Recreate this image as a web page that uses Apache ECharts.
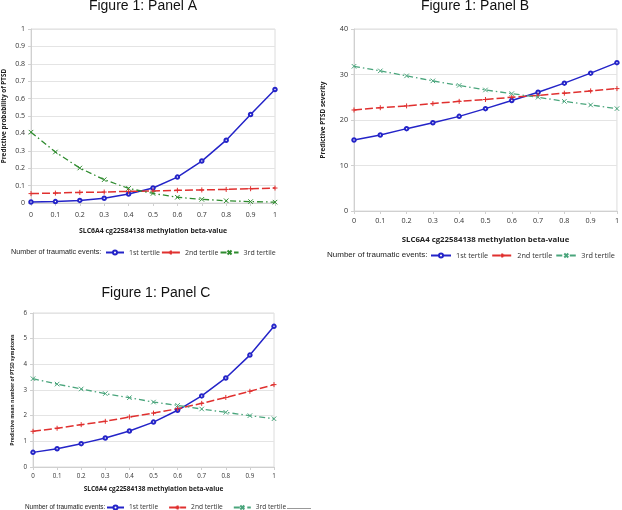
<!DOCTYPE html>
<html>
<head>
<meta charset="utf-8">
<script src="https://cdn.jsdelivr.net/npm/echarts@6/dist/echarts.min.js"></script>
<style>
html,body{margin:0;padding:0;background:#fff;}
#chart{width:622px;height:510px;}
</style>
</head>
<body>
<div id="chart"></div>
<script>
// ---- data ----
var betaValues = [0, 0.1, 0.2, 0.3, 0.4, 0.5, 0.6, 0.7, 0.8, 0.9, 1];
var seriesNames = ['1st tertile', '2nd tertile', '3rd tertile'];
var panelTitles = ['Figure 1: Panel A', 'Figure 1: Panel B', 'Figure 1: Panel C'];
var yTitles = ['Predictive probability of PTSD', 'Predictive PTSD severity', 'Predictive mean number of PTSD symptoms'];
var xTitle = 'SLC6A4 cg22584138 methylation beta-value';
var legendLabel = 'Number of traumatic events:';

// Panel A: predictive probability of PTSD
var panelA_t1 = [0.006, 0.008, 0.015, 0.027, 0.052, 0.086, 0.149, 0.241, 0.361, 0.509, 0.652];
var panelA_t2 = [0.054, 0.057, 0.061, 0.063, 0.067, 0.069, 0.073, 0.075, 0.078, 0.082, 0.086];
var panelA_t3 = [0.407, 0.293, 0.201, 0.134, 0.084, 0.055, 0.033, 0.021, 0.013, 0.008, 0.005];
// Panel B: predictive PTSD severity
var panelB_t1 = [15.6, 16.7, 18.1, 19.4, 20.8, 22.5, 24.3, 26.1, 28.1, 30.3, 32.6];
var panelB_t2 = [22.2, 22.7, 23.1, 23.6, 24.1, 24.5, 25.0, 25.4, 25.9, 26.4, 26.9];
var panelB_t3 = [31.8, 30.8, 29.7, 28.6, 27.6, 26.6, 25.8, 25.0, 24.1, 23.3, 22.5];
// Panel C: predictive mean number of PTSD symptoms
var panelC_t1 = [0.57, 0.71, 0.91, 1.13, 1.40, 1.75, 2.21, 2.77, 3.47, 4.36, 5.48];
var panelC_t2 = [1.39, 1.51, 1.65, 1.78, 1.95, 2.10, 2.27, 2.48, 2.71, 2.95, 3.21];
var panelC_t3 = [3.44, 3.23, 3.04, 2.86, 2.70, 2.53, 2.40, 2.26, 2.13, 2.00, 1.88];

var yMax = [1, 40, 6];
var yInterval = [0.1, 10, 1];

// ---- layout ----
var grids = [
  {left: 31, top: 29, width: 244, height: 174},
  {left: 354, top: 29, width: 264, height: 182},
  {left: 33, top: 313, width: 241, height: 154}
];
var xNameGap = [25, 25, 19];
var xNameSize = [6.9, 7.8, 6.5];
var tickSize = [7, 7.2, 6.2];
var xLabelMargin = [8, 6, 6];
var yNameGap = [24, 28, 18];
var yNameSize = [6.4, 6.4, 5.1];
var titlePos = [[143, 6], [475, 6], [156, 293]];
var legendTextPos = [[11, 252], [327, 255], [25, 507]];
var legendTextSize = [7.2, 8, 6.4];
var legendLeft = [105, 430, 106];
var legendY = [252, 255, 507];
var legendFont = [7, 7.3, 6.6];
var legendItemW = [18, 20, 17];
var legendGap = [1, 3, 10];

var colors = {
  blue: '#2424c8',
  red: '#e0302f',
  greenA: '#2e8b2e',
  greenBC: '#4aa57c'
};

function pairs(ys){ return betaValues.map(function(b,i){ return [b, ys[i]]; }); }

var plusPath = 'path://M0,5L10,5M5,0L5,10';
var crossPath = 'path://M0,0L10,10M10,0L0,10';

var panelData = [
  [panelA_t1, panelA_t2, panelA_t3],
  [panelB_t1, panelB_t2, panelB_t3],
  [panelC_t1, panelC_t2, panelC_t3]
];
var suffix = ['', ' ', '  '];

var series = [];
var legends = [];
var xAxes = [];
var yAxes = [];
var graphics = [];

for (var p = 0; p < 3; p++) {
  var green = p === 0 ? colors.greenA : colors.greenBC;
  var styles = [
    {color: colors.blue, type: 'solid', width: 1.5, symbol: 'emptyCircle', size: 3.5, bw: 0.8},
    {color: colors.red, type: [8, 3], width: 1.5, symbol: plusPath, size: 5, bw: 1},
    {color: green, type: [6, 3, 1.5, 3], width: 1.3, symbol: crossPath, size: 4.5, bw: 1}
  ];
  var names = [];
  for (var s = 0; s < 3; s++) {
    var st = styles[s];
    var nm = seriesNames[s] + suffix[p];
    names.push(nm);
    series.push({
      type: 'line',
      name: nm,
      xAxisIndex: p,
      yAxisIndex: p,
      data: pairs(panelData[p][s]),
      symbol: st.symbol,
      symbolSize: st.size,
      showAllSymbol: true,
      animation: false,
      lineStyle: {color: st.color, type: st.type, width: st.width},
      itemStyle: {color: st.color, borderColor: st.color, borderWidth: st.bw}
    });
  }
  legends.push({
    data: names,
    left: legendLeft[p],
    top: legendY[p] - 3,
    padding: 0,
    itemWidth: legendItemW[p],
    itemHeight: 5,
    itemGap: legendGap[p],
    selectedMode: false,
    formatter: function(n){ return n.trim(); },
    textStyle: {fontFamily: 'Open Sans', fontSize: legendFont[p], color: '#333'}
  });
  xAxes.push({
    type: 'value',
    gridIndex: p,
    min: 0, max: 1, interval: 0.1,
    name: xTitle,
    nameLocation: 'middle',
    nameGap: xNameGap[p],
    nameTextStyle: {fontFamily: 'Open Sans', fontWeight: 'bold', fontSize: xNameSize[p], color: '#222'},
    axisLine: {show: true, lineStyle: {color: '#d0d0d0'}},
    axisTick: {show: true, length: 3, lineStyle: {color: '#d0d0d0'}},
    axisLabel: {fontFamily: 'Open Sans', fontSize: tickSize[p], color: '#333', margin: xLabelMargin[p],
      formatter: function(v){ return String(Math.round(v*10)/10); }},
    splitLine: {show: false}
  });
  yAxes.push({
    type: 'value',
    gridIndex: p,
    min: 0, max: yMax[p], interval: yInterval[p],
    name: yTitles[p],
    nameLocation: 'middle',
    nameGap: yNameGap[p],
    nameTextStyle: {fontFamily: 'Open Sans', fontWeight: 'bold', fontSize: yNameSize[p], color: '#222'},
    axisLine: {show: true, lineStyle: {color: '#d0d0d0'}},
    axisTick: {show: true, length: 3, lineStyle: {color: '#d0d0d0'}},
    axisLabel: {fontFamily: 'Open Sans', fontSize: tickSize[p], color: '#333', margin: 6,
      formatter: function(v){ return String(Math.round(v*10)/10); }},
    splitLine: {show: true, lineStyle: {color: '#e4e4e4', width: 1}}
  });
  graphics.push({
    type: 'text',
    x: titlePos[p][0], y: titlePos[p][1],
    style: {text: panelTitles[p], fontFamily: 'Liberation Sans', fontSize: 14, fill: '#111',
      textAlign: 'center', textVerticalAlign: 'middle'}
  });
  graphics.push({
    type: 'text',
    x: legendTextPos[p][0], y: legendTextPos[p][1],
    style: {text: legendLabel, fontFamily: 'Liberation Sans', fontSize: legendTextSize[p], fill: '#222',
      textAlign: 'left', textVerticalAlign: 'middle'}
  });
}

// stray rule under panel C legend
graphics.push({type: 'line', shape: {x1: 287, y1: 508.5, x2: 311, y2: 508.5}, style: {stroke: '#999', lineWidth: 1}});

var chart = echarts.init(document.getElementById('chart'), null, {renderer: 'canvas'});
chart.setOption({
  backgroundColor: '#ffffff',
  animation: false,
  grid: grids.map(function(g){ return Object.assign({show: true, borderColor: '#dcdcdc', borderWidth: 1, backgroundColor: 'transparent'}, g); }),
  xAxis: xAxes,
  yAxis: yAxes,
  legend: legends,
  series: series,
  graphic: graphics
});
</script>
</body>
</html>
